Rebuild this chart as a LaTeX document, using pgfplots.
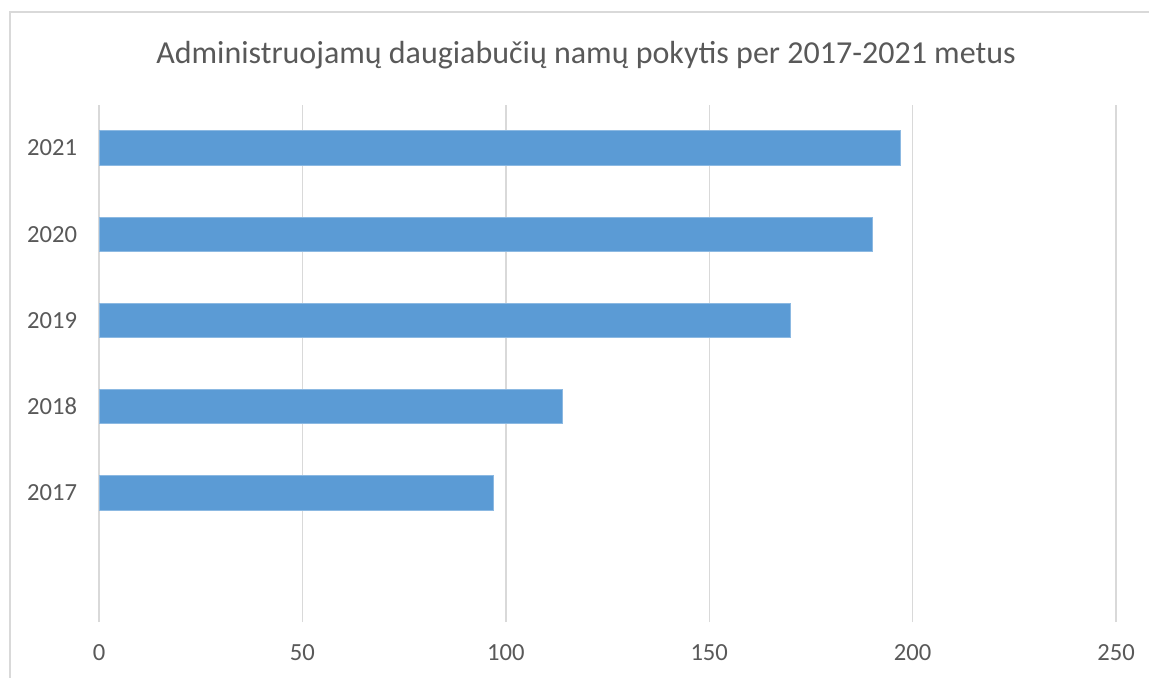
\documentclass[border=0pt]{standalone}
\usepackage{pgfplots}
\pgfplotsset{compat=1.18}
\usepackage{fontspec}
\setmainfont{Carlito}
\definecolor{barblue}{HTML}{5B9BD5}
\definecolor{gridgray}{HTML}{D9D9D9}
\definecolor{textgray}{HTML}{595959}
\begin{document}
\begin{tikzpicture}
\useasboundingbox (0,0) rectangle (574.5pt,-338.5pt);
\draw[gridgray, line width=0.75pt] (5pt,-340pt) -- (5pt,-6pt) -- (576pt,-6pt);
\node[anchor=base, text=textgray, font=\fontsize{16}{19}\selectfont, inner sep=0] at (293pt,-31.5pt) {Administruojamų daugiabučių namų pokytis per 2017-2021 metus};
\begin{axis}[
  at={(49.5pt,-311pt)}, anchor=south west,
  scale only axis, width=508.5pt, height=258.5pt,
  xbar, bar width=0.4,
  xmin=0, xmax=250, ymin=-0.5, ymax=5.5,
  xtick={0,50,100,150,200,250},
  ytick={1,2,3,4,5},
  yticklabels={2017,2018,2019,2020,2021},
  axis line style={draw=none},
  tick style={draw=none},
  xmajorgrids, major grid style={gridgray, line width=0.7pt},
  ticklabel style={text=textgray, font=\fontsize{12.3}{14}\selectfont},
  /pgf/number format/assume math mode=true,
  xticklabel style={anchor=base, inner sep=0, yshift=-19pt},
  yticklabel style={anchor=east, inner sep=0, xshift=-6.5pt},
]
\addplot[fill=barblue, draw=barblue!70!white, line width=0.4pt] coordinates {(97,1) (114,2) (170,3) (190,4) (197,5)};
\end{axis}
\end{tikzpicture}
\end{document}
